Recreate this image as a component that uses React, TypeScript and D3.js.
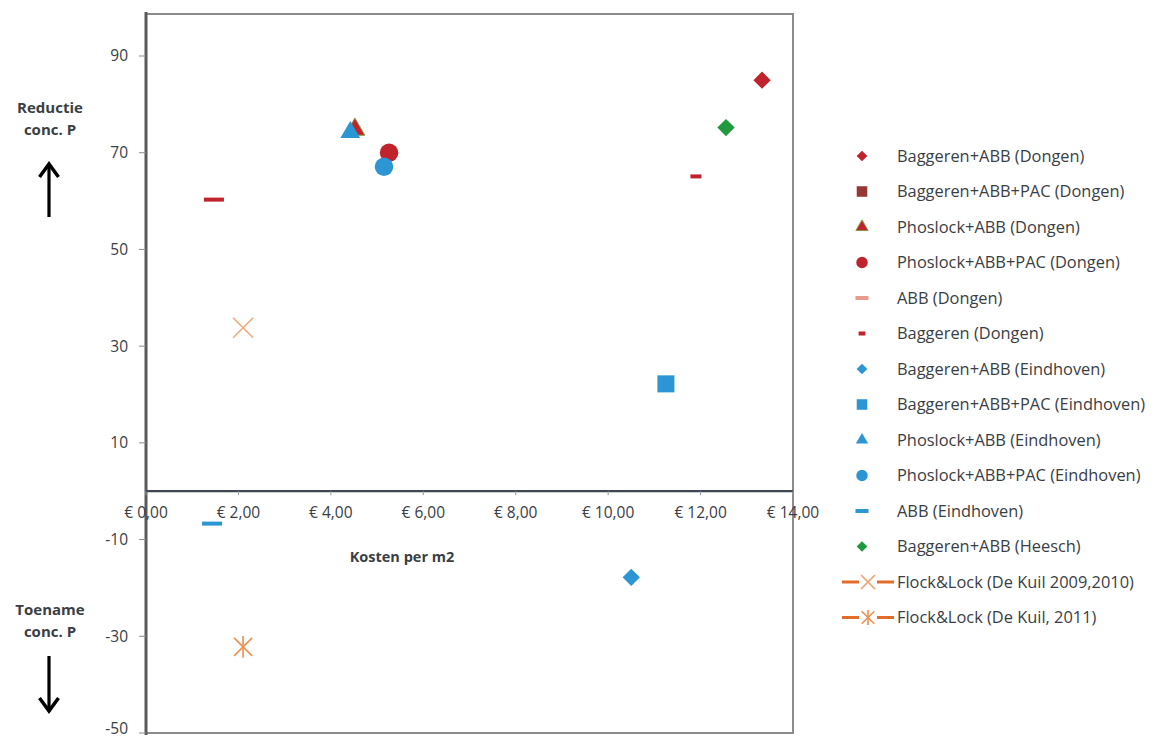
import React from "react";
import * as d3 from "d3";

// Series shown in the legend (order = draw order)
const seriesLabels = [
  "Baggeren+ABB (Dongen)",
  "Baggeren+ABB+PAC (Dongen)",
  "Phoslock+ABB (Dongen)",
  "Phoslock+ABB+PAC (Dongen)",
  "ABB (Dongen)",
  "Baggeren (Dongen)",
  "Baggeren+ABB (Eindhoven)",
  "Baggeren+ABB+PAC (Eindhoven)",
  "Phoslock+ABB (Eindhoven)",
  "Phoslock+ABB+PAC (Eindhoven)",
  "ABB (Eindhoven)",
  "Baggeren+ABB (Heesch)",
  "Flock&Lock (De Kuil 2009,2010)",
  "Flock&Lock (De Kuil, 2011)",
];

type MarkerKind = "diamond" | "square" | "triangle" | "circle" | "dashWide" | "dashShort" | "cross" | "star";

const seriesMarkers: MarkerKind[] = [
  "diamond", "square", "triangle", "circle", "dashWide", "dashShort",
  "diamond", "square", "triangle", "circle", "dashWide",
  "diamond", "cross", "star",
];

const seriesColors = [
  "#c0232b", "#953735", "#c0232b", "#c0232b", "#c0232b", "#c0232b",
  "#2b96d3", "#2b96d3", "#2b96d3", "#2b96d3", "#2b96d3",
  "#1f9a3e", "#f4a97a", "#ef7b33",
];

// Data points: series index, cost per m2 (EUR), reduction of P concentration (%)
const pointSeries = [0, 2, 3, 4, 5, 6, 7, 8, 9, 10, 11, 12, 13];
const pointCost = [13.33, 4.52, 5.26, 1.47, 11.9, 10.5, 11.25, 4.42, 5.15, 1.43, 12.55, 2.1, 2.1];
const pointReduction = [85, 74.8, 70, 60.3, 65.1, -17.8, 22.2, 74.2, 67.1, -6.7, 75.2, 33.8, -32.2];

const xTicks = [0, 2, 4, 6, 8, 10, 12, 14];
const yTicks = [90, 70, 50, 30, 10, -10, -30, -50];

const W = 1172;
const H = 740;
const plot = { left: 146, right: 793, top: 14, bottom: 733 };

const x = d3.scaleLinear().domain([0, 14]).range([plot.left, plot.right]);
const y = d3.scaleLinear().domain([-50, 90]).range([733, 56]);

const euro = (v: number) => "€ " + d3.format(".2f")(v).replace(".", ",");

const textColor = "#3a3e45";
const font = "'Open Sans', sans-serif";

function Marker({ kind, color, cx, cy, scale }: { kind: MarkerKind; color: string; cx: number; cy: number; scale: number }) {
  const t = `translate(${cx},${cy})`;
  if (kind === "diamond") {
    const p = d3.symbol(d3.symbolSquare, 150 * scale * scale)();
    return <path d={p!} transform={`${t} rotate(45)`} fill={color} />;
  }
  if (kind === "square") {
    const p = d3.symbol(d3.symbolSquare, 290 * scale * scale)();
    return <path d={p!} transform={t} fill={color} />;
  }
  if (kind === "triangle") {
    const p = d3.symbol(d3.symbolTriangle, 170 * scale * scale)();
    return <path d={p!} transform={t} fill={color} stroke={color === "#c0232b" ? "#8a9a3c" : "none"} strokeWidth={1} />;
  }
  if (kind === "circle") {
    const p = d3.symbol(d3.symbolCircle, 270 * scale * scale)();
    return <path d={p!} transform={t} fill={color} />;
  }
  if (kind === "dashWide" || kind === "dashShort") {
    const w = (kind === "dashWide" ? 20 : 11) * scale;
    return <rect x={cx - w / 2} y={cy - 2} width={w} height={4} fill={color} />;
  }
  if (kind === "cross") {
    const r = 10 * scale;
    return (
      <g stroke={color} strokeWidth={1.6} fill="none">
        <line x1={cx - r} y1={cy - r} x2={cx + r} y2={cy + r} />
        <line x1={cx - r} y1={cy + r} x2={cx + r} y2={cy - r} />
      </g>
    );
  }
  // star: x plus a vertical bar
  const r = 9 * scale;
  return (
    <g stroke={color} strokeWidth={1.6} fill="none" opacity={0.85}>
      <line x1={cx - r} y1={cy - r} x2={cx + r} y2={cy + r} />
      <line x1={cx - r} y1={cy + r} x2={cx + r} y2={cy - r} />
      <line x1={cx} y1={cy - r * 1.2} x2={cx} y2={cy + r * 1.2} />
    </g>
  );
}

export default function App() {
  const legendX = 862;
  const legendTextX = 897;
  const legendY0 = 156;
  const legendStep = 35.5;

  return (
    <svg width={W} height={H} style={{ position: "absolute", left: 0, top: 0, background: "#fff" }} fontFamily={font}>
      {/* plot frame */}
      <rect x={plot.left} y={plot.top} width={plot.right - plot.left} height={plot.bottom - plot.top} fill="none" stroke="#8c8c8c" strokeWidth={2} />
      <line x1={plot.left} y1={plot.top - 2} x2={plot.left} y2={plot.bottom + 2} stroke="#5a5a5a" strokeWidth={3} />

      {/* y ticks */}
      {yTicks.map((v) => (
        <g key={v}>
          <line x1={plot.left - 7} x2={plot.left} y1={y(v)} y2={y(v)} stroke="#8c8c8c" strokeWidth={1} />
          <text x={plot.left - 18} y={Math.min(y(v), 729)} dy="0.35em" textAnchor="end" fontSize={15.5} fill={textColor}>
            {v}
          </text>
        </g>
      ))}

      {/* x axis at zero */}
      <line x1={plot.left} x2={plot.right} y1={y(0)} y2={y(0)} stroke="#3f4650" strokeWidth={2.2} />
      {xTicks.map((v) => (
        <g key={v}>
          <line x1={x(v)} x2={x(v)} y1={y(0)} y2={y(0) + 4} stroke="#8c9aa8" strokeWidth={1} />
          <text x={x(v)} y={y(0) + 27} textAnchor="middle" fontSize={15.5} fill={textColor}>
            {euro(v)}
          </text>
        </g>
      ))}
      <text x={402} y={562} textAnchor="middle" fontSize={14.5} fontWeight="bold" fill={textColor}>
        Kosten per m2
      </text>

      {/* left annotations */}
      <g fontSize={15} fontWeight="bold" fill={textColor} textAnchor="middle">
        <text x={50} y={113}>Reductie</text>
        <text x={50} y={135}>conc. P</text>
        <text x={50} y={615}>Toename</text>
        <text x={50} y={637}>conc. P</text>
      </g>
      <line x1={49} y1={217} x2={49} y2={166} stroke="#000" strokeWidth={3.2} />
      <path d="M39.5,177 L49,164 L58.5,177" fill="none" stroke="#000" strokeWidth={3.5} />
      <line x1={49} y1={656} x2={49} y2={709} stroke="#000" strokeWidth={3.2} />
      <path d="M39.5,698 L49,711 L58.5,698" fill="none" stroke="#000" strokeWidth={3.5} />

      {/* data points */}
      {pointSeries.map((s, i) => (
        <Marker key={i} kind={seriesMarkers[s]} color={seriesColors[s]} cx={x(pointCost[i])} cy={y(pointReduction[i])} scale={1} />
      ))}

      {/* legend */}
      {seriesLabels.map((label, i) => {
        const ly = legendY0 + i * legendStep;
        const kind = seriesMarkers[i];
        const isLine = kind === "cross" || kind === "star";
        return (
          <g key={label}>
            {isLine && (
              <>
                <line x1={842} x2={859} y1={ly} y2={ly} stroke="#e46c2a" strokeWidth={3} />
                <line x1={877} x2={894} y1={ly} y2={ly} stroke="#e46c2a" strokeWidth={3} />
              </>
            )}
            <Marker
              kind={kind}
              color={kind === "cross" ? "#f0a06a" : kind === "dashWide" && i === 4 ? "#e89a8c" : seriesColors[i]}
              cx={isLine ? 868 : legendX}
              cy={ly}
              scale={isLine ? 0.7 : kind === "dashWide" ? 0.65 : 0.62}
            />
            <text x={legendTextX} y={ly} dy="0.35em" fontSize={16.4} fill={textColor}>
              {label}
            </text>
          </g>
        );
      })}
    </svg>
  );
}
